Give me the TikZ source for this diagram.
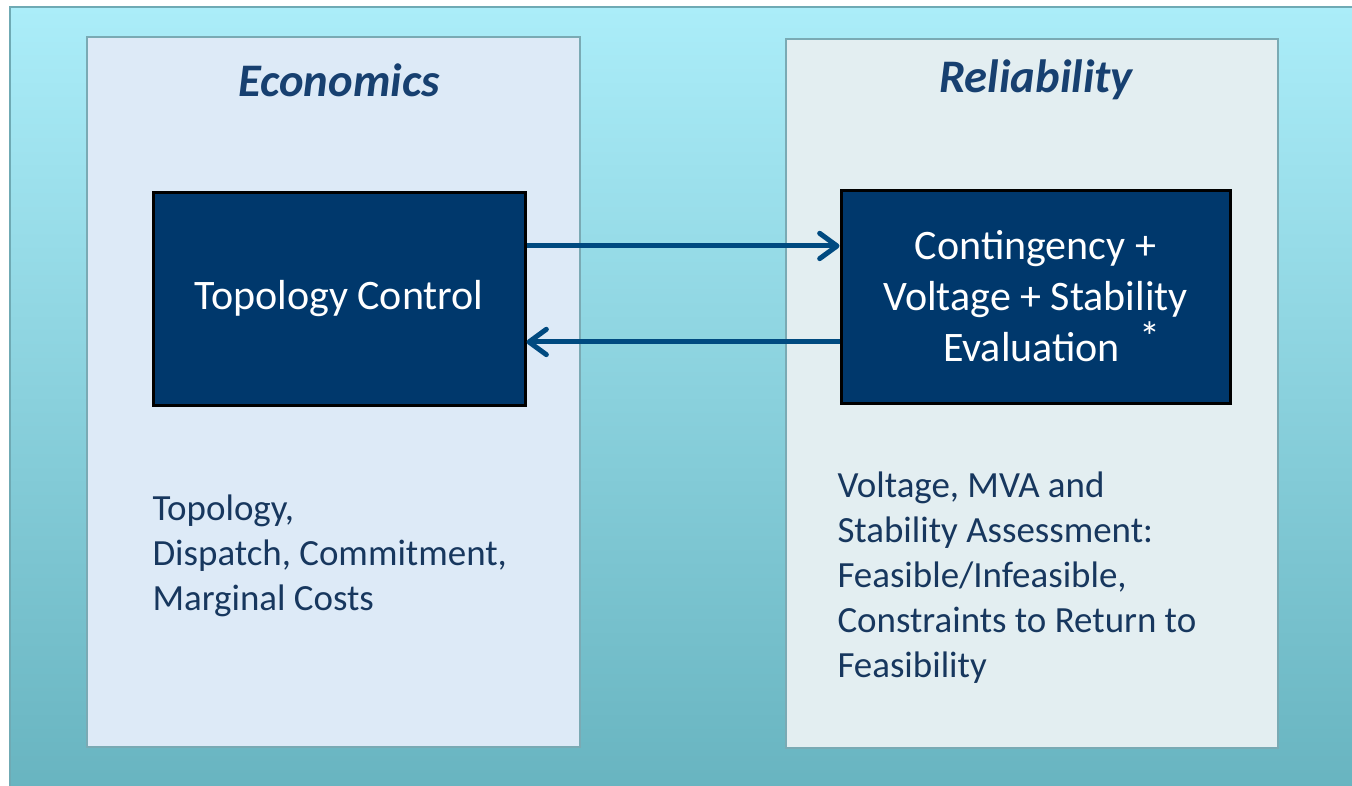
\documentclass[tikz,border=0pt]{standalone}
\usepackage{fontspec}
\setmainfont{Carlito}
\usetikzlibrary{arrows.meta}

\definecolor{bgtop}{RGB}{171,237,249}
\definecolor{bgbot}{RGB}{104,180,192}
\definecolor{framecol}{RGB}{111,170,180}
\definecolor{panelline}{RGB}{122,170,180}
\definecolor{econfill}{RGB}{221,234,247}
\definecolor{relfill}{RGB}{227,238,241}
\definecolor{navy}{RGB}{0,56,108}
\definecolor{flowblue}{RGB}{0,74,128}
\definecolor{titleblue}{RGB}{23,64,112}
\definecolor{textblue}{RGB}{23,55,94}

\tikzset{every picture/.style={line width=0.75pt}}
\tikzset{
	panel/.style={draw=panelline, line width=1.5pt},
	darkbox/.style={draw=black, fill=navy, line width=2.25pt, text=white, align=center, minimum height=159.75pt, font=\fontsize{31.5}{38.25}\selectfont},
	heading/.style={text=titleblue, font=\fontsize{35}{42}\selectfont\bfseries\itshape},
	note/.style={text=textblue, align=left, anchor=west, inner sep=0pt, font=\fontsize{27.7}{33.75}\selectfont},
	flow/.style={draw=flowblue, line width=3.75pt, -{Straight Barb[length=13pt, width=19pt, round]}}
}

\begin{document}
\begin{tikzpicture}[x=0.75pt,y=0.75pt,yscale=-1,xscale=1]
	\useasboundingbox (0,0) rectangle (1352,785);
	
	%Shape: Background
	\shade [top color=bgtop, bottom color=bgbot, draw=framecol, line width=1.5pt] (10,7) rectangle (1356,790);
	%Shape: Rectangle left panel
	\draw [panel, fill=econfill] (87,37) rectangle (580,747);
	%Shape: Rectangle right panel
	\draw [panel, fill=relfill] (786,39) rectangle (1278,748);
	
	% Text Node
	\node (econ) at (339,80) [heading] {Economics};
	% Text Node
	\node (relia) at (1036,80) [heading] {Reliability};
	
	%Shape: Box left
	\node (tc) at (339,298.5) [darkbox, minimum width=279pt] {Topology Control};
	%Shape: Box right
	\node (ev) at (1035.5,296.5) [darkbox, minimum width=291.75pt] {Contingency +\\Voltage + Stability\\\hspace*{24pt}Evaluation\ \ \raisebox{0.25em}{*}};
	
	%Straight Lines
	\coordinate (fwd) at ([yshift=-39.4pt]tc.east);
	\draw [flow] (fwd) -- (fwd -| ev.west);
	%Straight Lines
	\coordinate (bck) at ([yshift=32.6pt]tc.east);
	\draw [flow] (bck -| ev.west) -- (bck);
	
	% Text Node
	\node (econtxt) at (152,556) [note] {Topology,\\Dispatch, Commitment,\\Marginal Costs};
	% Text Node
	\node (reltxt) at (837,578) [note] {Voltage, MVA and\\Stability Assessment:\\Feasible/Infeasible,\\Constraints to Return to\\Feasibility};
	
\end{tikzpicture}
\end{document}
